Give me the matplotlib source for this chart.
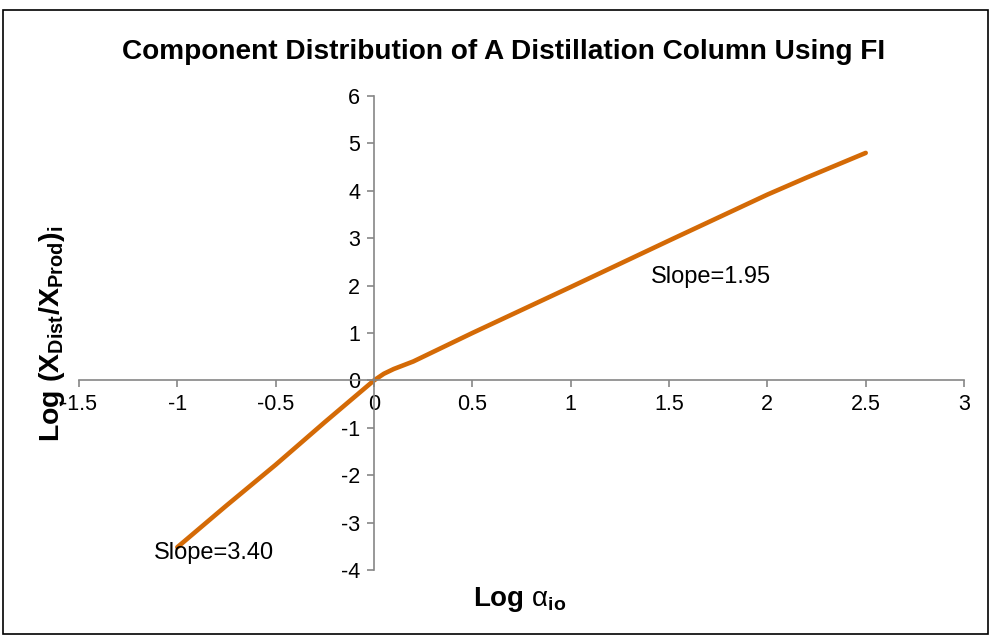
import matplotlib
matplotlib.use('Agg')
import matplotlib.pyplot as plt
from matplotlib.patches import Rectangle

plt.rcParams['font.family'] = ['Liberation Sans', 'DejaVu Sans']
plt.rcParams['mathtext.fontset'] = 'custom'
plt.rcParams['mathtext.rm'] = 'Liberation Sans'
plt.rcParams['mathtext.bf'] = 'Liberation Sans:bold'
plt.rcParams['mathtext.it'] = 'Liberation Sans:italic'
plt.rcParams['axes.unicode_minus'] = False

# data
log_alpha = [-1.0, -0.75, -0.5, -0.25, 0.0, 0.05, 0.1, 0.2, 0.5, 1.0, 1.5, 2.0, 2.2, 2.5]
log_ratio = [-3.52, -2.64, -1.78, -0.88, 0.0, 0.14, 0.24, 0.40, 1.00, 1.97, 2.95, 3.92, 4.28, 4.8]
x_ticks = [-1.5, -1, -0.5, 0, 0.5, 1, 1.5, 2, 2.5, 3]
y_ticks = [-4, -3, -2, -1, 0, 1, 2, 3, 4, 5, 6]

fig = plt.figure(figsize=(9.91, 6.36), dpi=100)
ax = fig.add_axes([0.0797, 0.1038, 0.8931, 0.7452])

ax.plot(log_alpha, log_ratio, color='#D46A06', lw=3.3, solid_capstyle='round',
        solid_joinstyle='round')

ax.set_xlim(-1.5, 3)
ax.set_ylim(-4, 6)
ax.set_xticks(x_ticks)
ax.set_xticklabels([f'{t:g}' for t in x_ticks])
ax.set_yticks(y_ticks)

for s in ['top', 'right']:
    ax.spines[s].set_visible(False)
ax.spines['left'].set_position(('data', 0))
ax.spines['bottom'].set_position(('data', 0))
for s in ['left', 'bottom']:
    ax.spines[s].set_color('#868686')
    ax.spines[s].set_linewidth(1.2)
ax.tick_params(direction='out', length=5, width=1.2, color='#868686',
               labelsize=15.5, pad=5)

ax.text(-1.12, -3.65, 'Slope=3.40', fontsize=17, va='center')
ax.text(1.41, 2.19, 'Slope=1.95', fontsize=17, va='center')

fig.text(0.508, 0.918, 'Component Distribution of A Distillation Column Using FI',
         ha='center', va='center', fontsize=20.2, fontweight='bold')
fig.text(0.052, 0.476, r'$\mathbf{Log\ (X_{Dist}/X_{Prod})_i}$', rotation=90,
         ha='center', va='center', fontsize=20.5)
fig.text(0.524, 0.057, r'$\mathbf{Log}\ \mathrm{α}_{\mathbf{io}}$', ha='center', va='center',
         fontsize=20)

fig.patches.append(Rectangle((0.003, 0.003), 0.994, 0.982, transform=fig.transFigure,
                             fill=False, edgecolor='black', linewidth=1.2))

fig.savefig('out.png', dpi=100)
